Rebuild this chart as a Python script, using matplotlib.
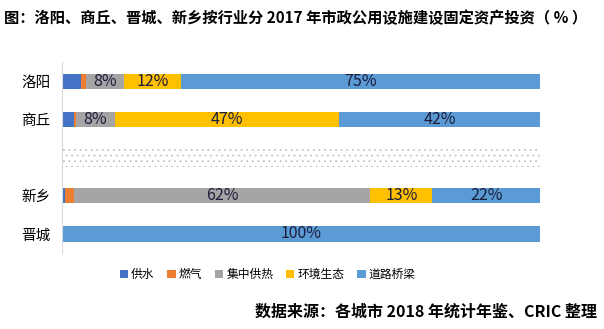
import matplotlib
matplotlib.use('Agg')
import matplotlib.pyplot as plt
import numpy as np

plt.rcParams['font.family'] = ['Noto Sans CJK SC', 'DejaVu Sans']
plt.rcParams['hatch.linewidth'] = 0.6

# data (share of investment, %)
cities = ['洛阳', '商丘', '', '新乡', '晋城']
series = ['供水', '燃气', '集中供热', '环境生态', '道路桥梁']
water = [4.0, 2.6, 0, 0.7, 0]
gas = [1.0, 0.4, 0, 1.8, 0]
heating = [8.0, 8.0, 0, 62.0, 0]
ecology = [12.0, 47.0, 0, 13.0, 0]
roads = [75.0, 42.0, 0, 22.5, 100.0]
colors = ['#4472C4', '#ED7D31', '#A5A5A5', '#FFC000', '#5B9BD5']

fig = plt.figure(figsize=(6.04, 3.29), dpi=100)
ax = fig.add_axes([0.1026, 0.231, 0.7914, 0.58])

y = np.arange(len(cities))
left = np.zeros(len(cities))
for name, vals, c in zip(series, [water, gas, heating, ecology, roads], colors):
    vals = np.array(vals)
    ax.barh(y, vals, left=left, height=0.4, color=c, label=name)
    for yi, (l, v) in enumerate(zip(left, vals)):
        if v >= 5:
            ax.text(l + v / 2, yi, f'{v:.0f}%', ha='center', va='center',
                    fontsize=11.5, color='#1c1c3c')
    left += vals

# dotted break row
ax.barh(2, 100, height=0.5, color='white', hatch='...', edgecolor='#c4c4c4', linewidth=0)

ax.set_xlim(0, 100)
ax.set_ylim(4.5, -0.5)
ax.set_yticks(y)
ax.set_yticklabels(cities, fontsize=10.5)
ax.tick_params(axis='y', length=0, pad=8)
ax.set_xticks([])
for s in ['top', 'right', 'bottom']:
    ax.spines[s].set_visible(False)
ax.spines['left'].set_color('#d9d9d9')

fig.text(0.006, 0.945, '图：洛阳、商丘、晋城、新乡按行业分 2017 年市政公用设施建设固定资产投资（ % ）',
         fontsize=11, fontweight='bold', va='center', ha='left')

fig.legend(loc='center', bbox_to_anchor=(0.443, 0.165), ncol=5, frameon=False,
           fontsize=8.5, handlelength=0.7, handleheight=0.7, handletextpad=0.25,
           columnspacing=1.1)

fig.text(0.988, 0.052, '数据来源：各城市 2018 年统计年鉴、CRIC 整理',
         fontsize=11.5, fontweight='bold', va='center', ha='right')

fig.savefig('out.png', dpi=100)
